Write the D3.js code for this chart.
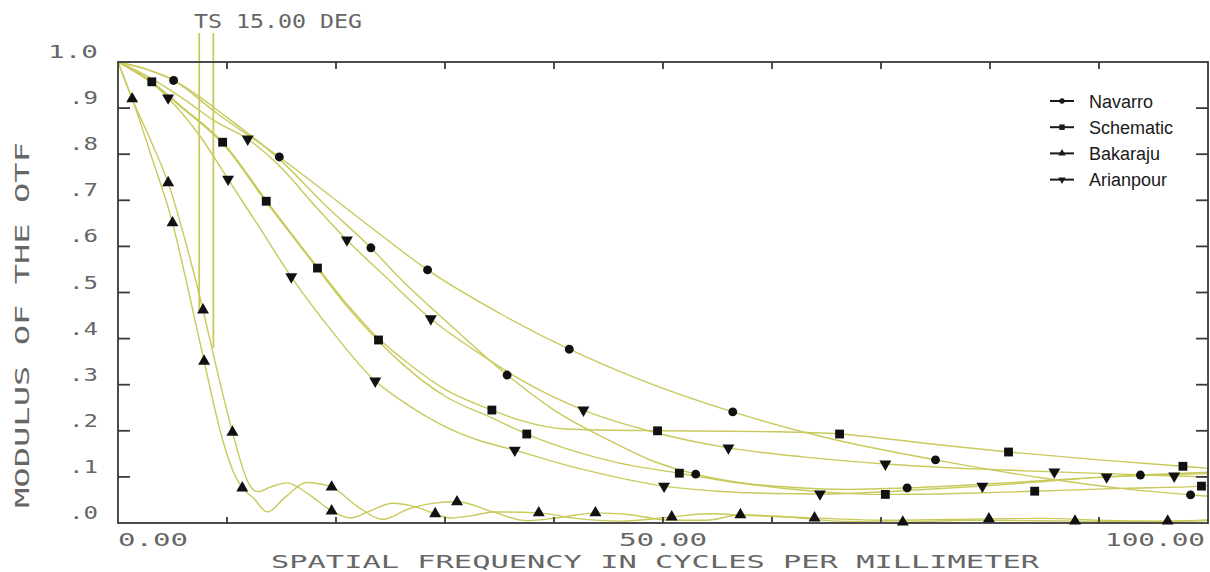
<!DOCTYPE html>
<html>
<head>
<meta charset="utf-8">
<script src="https://cdn.jsdelivr.net/npm/d3@7"></script>
<style>
  html, body { margin: 0; padding: 0; background: #fff; }
  svg { display: block; }
</style>
</head>
<body>
<svg id="chart" width="1210" height="572"></svg>
<script>
// MTF curves, two per model (tangential + sagittal)
const navarroT = [[0,1],[2.5,0.985],[5,0.962],[9,0.89],[14.8,0.794],[20,0.70],[24,0.627],[28.4,0.549],[35,0.455],[41.4,0.377],[48,0.31],[56.4,0.241],[65,0.185],[75,0.137],[85,0.097],[92,0.075],[98.4,0.061],[100,0.058]];
const navarroS = [[0,1],[2.5,0.985],[5.1,0.96],[10,0.88],[15,0.785],[19,0.69],[23.2,0.597],[25.9,0.53],[30,0.44],[35.7,0.321],[40,0.245],[45,0.18],[49,0.135],[53,0.106],[57,0.088],[62,0.077],[67,0.073],[72.4,0.076],[80,0.085],[87,0.095],[93.8,0.104],[100,0.11]];
const schemT = [[0,1],[3.1,0.957],[6,0.9],[9.6,0.826],[13.6,0.70],[18.3,0.555],[21,0.475],[23.9,0.40],[25.9,0.36],[30,0.29],[34.3,0.245],[37,0.222],[41,0.204],[49.5,0.200],[56,0.199],[60,0.198],[66.2,0.193],[74,0.173],[81.7,0.154],[90,0.137],[97.7,0.123],[100,0.119]];
const schemS = [[0,1],[3.1,0.955],[6,0.898],[9.6,0.823],[13.6,0.696],[18.3,0.552],[21,0.47],[23.9,0.395],[25.9,0.349],[30,0.275],[34.3,0.228],[37.5,0.193],[42,0.155],[46,0.13],[51.5,0.108],[56,0.09],[60,0.078],[65,0.067],[70.4,0.062],[77,0.064],[84.1,0.069],[92,0.075],[99.4,0.080],[100,0.081]];
const bakT = [[0,1],[1.3,0.92],[3,0.80],[5,0.651],[6.5,0.50],[7.9,0.351],[9.6,0.18],[10.6,0.11],[11.4,0.076],[12.4,0.055],[13.7,0.024],[15.3,0.055],[17.3,0.088],[19.6,0.078],[22,0.035],[24.3,0.008],[26.6,0.03],[29,0.043],[31.1,0.046],[34.4,0.024],[37.5,0.005],[40.5,0.012],[43.8,0.022],[47,0.018],[50.5,0.006],[54,0.006],[57.1,0.018],[61,0.014],[66,0.004],[72,0.002],[78,0.006],[87.8,0.004],[94,0.003],[100,0.006]];
const bakS = [[0,1],[1.3,0.92],[3,0.83],[4.6,0.738],[6.2,0.61],[7.8,0.462],[9.2,0.32],[10.5,0.197],[11.3,0.13],[11.9,0.09],[12.8,0.068],[14,0.078],[15.5,0.087],[17.5,0.062],[19.6,0.026],[21.3,0.011],[23,0.025],[25.2,0.043],[27.3,0.035],[29.1,0.02],[30.5,0.011],[32.5,0.016],[34.4,0.024],[38.6,0.022],[42,0.01],[46,0.004],[50.8,0.013],[54,0.02],[58,0.016],[63.9,0.011],[70,0.006],[79.9,0.009],[85,0.01],[90,0.006],[96.3,0.004],[100,0.006]];
const arianT = [[0,1],[3,0.965],[6,0.92],[9,0.87],[11.9,0.833],[15,0.77],[18,0.69],[21,0.614],[24.5,0.535],[28.7,0.443],[33,0.37],[37,0.31],[42.7,0.245],[49,0.198],[56,0.163],[63,0.143],[70.4,0.128],[78,0.118],[85.9,0.111],[92,0.106],[96.9,0.102],[100,0.1]];
const arianS = [[0,1],[2.3,0.97],[4.6,0.922],[7.5,0.84],[10.1,0.746],[13,0.64],[15.9,0.534],[19.5,0.42],[23.6,0.308],[25.9,0.267],[28,0.235],[31,0.198],[33,0.18],[36.4,0.158],[42,0.12],[46,0.098],[50.1,0.080],[55,0.069],[60,0.064],[64.4,0.063],[72,0.07],[79.3,0.080],[85,0.09],[90.7,0.100],[95,0.104],[100,0.107]];

// marker positions along the curves
const navarroMarks = [[5.1,0.96],[14.8,0.794],[23.2,0.597],[28.4,0.549],[35.7,0.321],[41.4,0.377],[53,0.106],[56.4,0.241],[72.4,0.076],[75,0.137],[93.8,0.104],[98.4,0.061]];
const schemMarks = [[3.1,0.957],[9.6,0.826],[13.6,0.698],[18.3,0.553],[23.9,0.397],[34.3,0.245],[37.5,0.193],[49.5,0.200],[51.5,0.108],[66.2,0.193],[70.4,0.062],[81.7,0.154],[84.1,0.069],[97.7,0.123],[99.4,0.080]];
const bakMarks = [[1.3,0.92],[4.6,0.738],[5.0,0.651],[7.8,0.462],[7.9,0.351],[10.5,0.197],[11.4,0.076],[19.6,0.078],[19.6,0.026],[29.1,0.020],[31.1,0.046],[38.6,0.022],[43.8,0.022],[50.8,0.013],[57.1,0.018],[63.9,0.011],[72.0,0.002],[79.9,0.009],[87.8,0.004],[96.3,0.004]];
const arianMarks = [[4.6,0.922],[10.1,0.746],[11.9,0.833],[15.9,0.534],[21.0,0.614],[23.6,0.308],[28.7,0.443],[36.4,0.158],[42.7,0.245],[50.1,0.080],[56.0,0.163],[64.4,0.063],[70.4,0.128],[79.3,0.080],[85.9,0.111],[90.7,0.100],[96.9,0.102]];

// the two vertical field lines under the "TS" label: x, top, bottom
const fieldLines = [[7.45, 1.063, 0.462], [8.75, 1.063, 0.38]];

const seriesNames = ['Navarro', 'Schematic', 'Bakaraju', 'Arianpour'];
const xTickValues = [0, 50, 100];
const xTickLabels = ['0.00', '50.00', '100.00'];
const yTickValues = [0, 0.1, 0.2, 0.3, 0.4, 0.5, 0.6, 0.7, 0.8, 0.9, 1.0];
const yTickLabels = ['.0', '.1', '.2', '.3', '.4', '.5', '.6', '.7', '.8', '.9', '1.0'];

const curveColor = '#c9c95c';
const axisColor = '#3a3a3a';
const textColor = '#666';
const plotFont = '"DejaVu Sans Mono", monospace';

const svg = d3.select('#chart');
const margin = { top: 62, right: 2, bottom: 49, left: 118 };
const width = 1210 - margin.left - margin.right;
const height = 572 - margin.top - margin.bottom;

const xScale = d3.scaleLinear().domain([0, 100]).range([margin.left, margin.left + width]);
const yScale = d3.scaleLinear().domain([0, 1]).range([margin.top + height, margin.top]);

// stretched mono text to mimic the plotter font
function plotText(str, x, y, len, anchor, size) {
  let x0 = x;
  if (anchor === 'end') x0 = x - len;
  if (anchor === 'middle') x0 = x - len / 2;
  return svg.append('text')
    .attr('x', x0)
    .attr('y', y)
    .attr('font-family', plotFont)
    .attr('font-size', size)
    .attr('fill', textColor)
    .attr('textLength', len)
    .attr('lengthAdjust', 'spacingAndGlyphs')
    .text(str);
}

// curves
const line = d3.line()
  .x(d => xScale(d[0]))
  .y(d => yScale(d[1]))
  .curve(d3.curveMonotoneX);

const curves = [navarroT, navarroS, schemT, schemS, bakT, bakS, arianT, arianS];
svg.append('g')
  .selectAll('path')
  .data(curves)
  .enter().append('path')
  .attr('fill', 'none')
  .attr('stroke', curveColor)
  .attr('stroke-width', 1.4)
  .attr('d', line);

// vertical field lines
svg.append('g')
  .selectAll('line')
  .data(fieldLines)
  .enter().append('line')
  .attr('x1', d => xScale(d[0]))
  .attr('x2', d => xScale(d[0]))
  .attr('y1', d => yScale(d[1]))
  .attr('y2', d => yScale(d[2]))
  .attr('stroke', curveColor)
  .attr('stroke-width', 1.8);

// frame
svg.append('rect')
  .attr('x', margin.left)
  .attr('y', margin.top)
  .attr('width', width)
  .attr('height', height)
  .attr('fill', 'none')
  .attr('stroke', axisColor)
  .attr('stroke-width', 1.8);

// ticks: long inward on left/right, short on top/bottom
const innerY = yTickValues.slice(1, -1);
const innerX = d3.range(10, 100, 10);
const ticks = svg.append('g').attr('stroke', axisColor).attr('stroke-width', 1.8);
innerY.forEach(v => {
  ticks.append('line').attr('x1', margin.left).attr('x2', margin.left + 12)
    .attr('y1', yScale(v)).attr('y2', yScale(v));
  ticks.append('line').attr('x1', margin.left + width - 12).attr('x2', margin.left + width)
    .attr('y1', yScale(v)).attr('y2', yScale(v));
});
innerX.forEach(v => {
  ticks.append('line').attr('x1', xScale(v)).attr('x2', xScale(v))
    .attr('y1', margin.top).attr('y2', margin.top + 7);
  ticks.append('line').attr('x1', xScale(v)).attr('x2', xScale(v))
    .attr('y1', margin.top + height - 6).attr('y2', margin.top + height);
});

// markers
const markerColor = '#111';
const markerSets = [
  { data: navarroMarks, type: d3.symbolCircle, size: 62, rot: 0 },
  { data: schemMarks, type: d3.symbolSquare, size: 78, rot: 0 },
  { data: bakMarks, type: d3.symbolTriangle, size: 62, rot: 0 },
  { data: arianMarks, type: d3.symbolTriangle, size: 62, rot: 180 }
];
markerSets.forEach(s => {
  svg.append('g')
    .selectAll('path')
    .data(s.data)
    .enter().append('path')
    .attr('d', d3.symbol().type(s.type).size(s.size))
    .attr('transform', d => `translate(${xScale(d[0])},${yScale(d[1])}) rotate(${s.rot})`)
    .attr('fill', markerColor);
});

// y tick labels, sitting a little above each tick
yTickValues.forEach((v, i) => {
  const lab = yTickLabels[i];
  const len = lab.length === 3 ? 50 : 29;
  plotText(lab, 98, yScale(v) - 4, len, 'end', 17);
});

// x tick labels
const xAnchors = ['start', 'middle', 'end'];
const xLens = [70, 88, 100];
xTickValues.forEach((v, i) => {
  const px = i === 2 ? xScale(v) - 3 : xScale(v);
  plotText(xTickLabels[i], px, 546, xLens[i], xAnchors[i], 18);
});

// axis titles
plotText('SPATIAL FREQUENCY IN CYCLES PER MILLIMETER', 271, 568, 768, 'start', 18);
plotText('TS 15.00 DEG', 194, 28, 168, 'start', 20);
svg.append('text')
  .attr('transform', 'translate(29,508) rotate(-90)')
  .attr('font-family', plotFont)
  .attr('font-size', 20)
  .attr('fill', textColor)
  .attr('textLength', 366)
  .attr('lengthAdjust', 'spacingAndGlyphs')
  .text('MODULUS OF THE OTF');

// legend
const legend = svg.append('g');
const legendSymbols = [d3.symbolCircle, d3.symbolSquare, d3.symbolTriangle, d3.symbolTriangle];
const legendSizes = [22, 30, 24, 24];
const legendRot = [0, 0, 0, 180];
seriesNames.forEach((name, i) => {
  const ly = 101 + i * 26.2;
  legend.append('line')
    .attr('x1', 1050).attr('x2', 1074)
    .attr('y1', ly).attr('y2', ly)
    .attr('stroke', '#1a1a1a')
    .attr('stroke-width', 2);
  legend.append('path')
    .attr('d', d3.symbol().type(legendSymbols[i]).size(legendSizes[i]))
    .attr('transform', `translate(1062,${ly}) rotate(${legendRot[i]})`)
    .attr('fill', '#1a1a1a');
  legend.append('text')
    .attr('x', 1089)
    .attr('y', ly + 6.5)
    .attr('font-family', '"Liberation Sans", Arial, sans-serif')
    .attr('font-size', 18)
    .attr('fill', '#1a1a1a')
    .text(name);
});
</script>
</body>
</html>
